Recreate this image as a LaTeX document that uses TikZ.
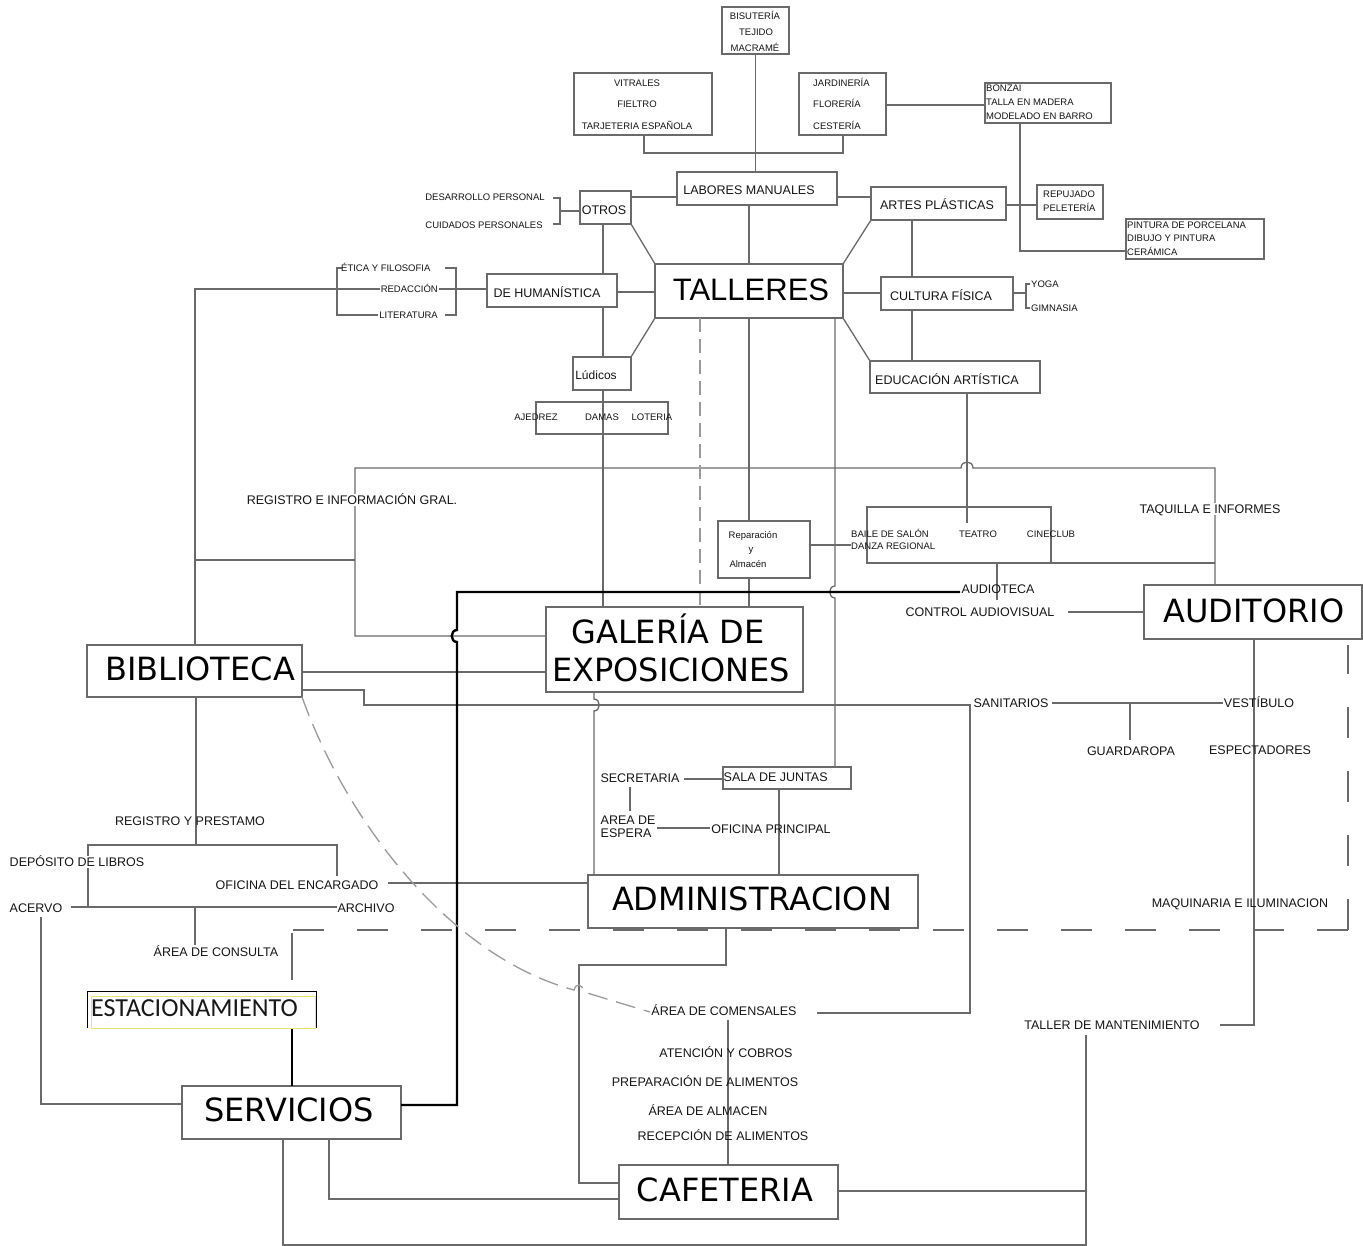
\documentclass[tikz,border=0pt]{standalone}
\usepackage{fontspec}
\setmainfont{Liberation Sans}
\newfontfamily\dvfont{DejaVu Sans}
\newfontfamily\carlfont{Carlito}
\newcommand\szS{\fontsize{9.5}{11}\selectfont}
\newcommand\szM{\fontsize{12.5}{15}\selectfont}
\newcommand\szB{\dvfont\fontsize{32}{36}\selectfont}
\newcommand\szT{\fontsize{31}{34}\selectfont}
\newcommand\szE{\carlfont\fontsize{26}{30}\selectfont}
\definecolor{lg}{HTML}{6A6A6A}
\definecolor{dg}{HTML}{9A9A9A}
\definecolor{txt}{HTML}{161616}
\definecolor{ylw}{HTML}{EDE36A}
\newcommand\zbox[6][]{\node[box,minimum width={#5-#3},minimum height={#6-#4},#1] (#2) at ({(#3+#5)/2},{(#4+#6)/2}) {};}
\begin{document}
\begin{tikzpicture}[x=1pt,y=-1pt,
  box/.style={draw=lg,line width=1.3pt,inner sep=0pt,outer sep=0pt},
  ln/.style={draw=lg,line width=1.3pt},
  tk/.style={draw=black,line width=2.4pt},
  dsh/.style={draw=lg,line width=1.3pt,dash pattern=on 31pt off 33pt},
  ldsh/.style={draw=dg,line width=1.3pt,dash pattern=on 14pt off 7pt},
  cdsh/.style={draw=dg,line width=1.3pt,dash pattern=on 20pt off 9pt},
  tL/.style={font=\szM,text=txt,text height=9pt,text depth=0pt,inner sep=1.5pt},
  tS/.style={font=\szS,text=txt,text height=6.8pt,text depth=0pt,inner sep=1pt},
  tB/.style={font=\szB,text=black,text height=23.3pt,text depth=0pt,inner sep=0pt},
  wb/.style={fill=white}]
\fill[white] (0,0) rectangle (1363,1246);
\useasboundingbox (0,0) rectangle (1363,1246);

% ---------- boxes ----------
\zbox{bis}{722}{7}{789}{54}
\zbox{vit}{574}{73}{712}{135}
\zbox{jar}{799}{73}{886}{135}
\zbox{bon}{985}{83}{1111}{123}
\zbox{rep}{1037}{185}{1103}{219}
\zbox{pin}{1126}{219}{1264}{259}
\zbox{lab}{677}{172}{837}{205}
\zbox{otr}{580}{191}{631}{224}
\zbox{art}{871}{187}{1006}{220}
\zbox{hum}{487}{274}{617}{307}
\zbox{tal}{655}{264}{843}{318}
\zbox{cul}{881}{277}{1013}{310}
\zbox{lud}{573}{357}{631}{390}
\zbox{aje}{536}{402}{668}{434}
\zbox{edu}{870}{361}{1040}{393}
\zbox{rpa}{718}{521}{810}{578}
\zbox{bai}{867}{507}{1051}{563}
\zbox{aud}{1144}{585}{1362}{639}
\zbox{gal}{546}{607}{803}{692}
\zbox{bib}{87}{645}{302}{697}
\zbox{sal}{723}{767}{851}{789}
\zbox{adm}{588}{875}{918}{928}
\zbox{ser}{182}{1086}{401}{1139}
\zbox{caf}{619}{1165}{838}{1219}
\zbox[draw=none]{est}{87}{991}{316}{1028}

% ---------- connectors ----------
\draw[ln] (bis.south) -- (bis.south |- lab.north);
\draw[ln] (vit.south -| 644,0) -- (644,153) -- (843,153) -- (jar.south -| 843,0);
\draw[ln] (jar.east |- 0,105) -- (bon.west |- 0,105);
\draw[ln] (bon.south -| 1020,0) -- (1020,251) -- (pin.west |- 0,251);
\draw[ln] (art.east |- 0,205) -- (rep.west |- 0,205);
\draw[ln] (otr.east |- 0,197) -- (lab.west |- 0,197);
\draw[ln] (lab.east |- 0,197) -- (art.west |- 0,197);
\draw[ln] (553,198) -- (560,198) -- (560,224) -- (553,224);
\draw[ln] (560,211) -- (otr.west |- 0,211);
\draw[ln] (otr.south -| 603,0) -- (hum.north -| 603,0);
\draw[ln] (hum.south -| 603,0) -- (lud.north -| 603,0);
\draw[ln] (lud.south -| 603,0) -- (gal.north -| 603,0);
\draw[ln] (lab.south -| 749,0) -- (tal.north -| 749,0);
\draw[ln] (otr.south east) -- (tal.north west);
\draw[ln] (tal.south west) -- (lud.north east);
\draw[ln] (tal.north east) -- (art.south west);
\draw[ln] (tal.south east) -- (edu.north west);
\draw[ln] (tal.west |- 0,292) -- (hum.east |- 0,292);
\draw[ln] (tal.east |- 0,293) -- (cul.west |- 0,293);
\draw[ln] (cul.east |- 0,293) -- (1026,293);
\draw[ln] (1030,284) -- (1026,284) -- (1026,308) -- (1030,308);
\draw[ln] (art.south -| 912,0) -- (cul.north -| 912,0);
\draw[ln] (cul.south -| 912,0) -- (edu.north -| 912,0);
\draw[ln] (445,268) -- (456,268) -- (456,315) -- (445,315);
\draw[ln] (342,268) -- (337,268) -- (337,315) -- (379,315);
\draw[ln] (bib.north -| 195,0) -- (195,289) -- (hum.west |- 0,289);
\draw[ln] (195,560) -- (355,560);
\draw[ln] (gal.west |- 0,636) -- (355,636) -- (355,468) -- (961,468)
  .. controls (961,460) and (973,460) .. (973,468) -- (1215,468) -- (aud.north -| 1215,0);
\draw[ln] (edu.south -| 967,0) -- (967,523);
\draw[ln] (tal.south -| 749,0) -- (rpa.north -| 749,0);
\draw[ln] (rpa.south -| 749,0) -- (gal.north -| 749,0);
\draw[ldsh] (tal.south -| 700,0) -- (gal.north -| 700,0);
\draw[ln] (tal.south -| 835,0) -- (835,586) .. controls (828,586) and (828,598) .. (835,598) -- (sal.north -| 835,0);
\draw[ln] (rpa.east |- 0,545) -- (851,545);
\draw[ln] (bai.south east) -- (1215,563);
\draw[ln] (bai.south -| 997,0) -- (997,600);
\draw[ln] (1068,612) -- (aud.west |- 0,612);
\draw[ln] (aud.south -| 1254,0) -- (1254,1025) -- (1220,1025);
\draw[ln] (1086,1035) -- (1086,1245) -- (283,1245) -- (ser.south -| 283,0);
\draw[ln] (caf.east |- 0,1191) -- (1086,1191);
\draw[ln] (bib.east |- 0,672) -- (gal.west |- 0,672);
\draw[ln] (bib.east |- 0,690) -- (364,690) -- (364,705) -- (970,705) -- (970,1013) -- (817,1013);
\draw[ln] (1052,703) -- (1223,703);
\draw[ln] (1130,703) -- (1130,740);
\draw[ln] (gal.south -| 594,0) -- (594,699) .. controls (601,699) and (601,711) .. (594,711) -- (adm.north -| 594,0);
\draw[ln] (684,779) -- (sal.west |- 0,779);
\draw[ln] (630,787) -- (630,811);
\draw[ln] (657,828) -- (710,828);
\draw[ln] (sal.south -| 779,0) -- (adm.north -| 779,0);
\draw[ln] (adm.west |- 0,883) -- (388,883);
\draw[ln] (adm.south -| 726,0) -- (726,965) -- (579,965) -- (579,1183) -- (caf.west |- 0,1183);
\draw[ln] (728,1020) -- (caf.north -| 728,0);
\draw[ln] (bib.south -| 196,0) -- (196,845);
\draw[ln] (88,907) -- (88,845) -- (337,845) -- (337,876);
\draw[ln] (71,907) -- (337,907);
\draw[ln] (195,907) -- (195,945);
\draw[ln] (41,917) -- (41,1104) -- (ser.west |- 0,1104);
\draw[ln] (ser.south -| 329,0) -- (329,1199) -- (caf.west |- 0,1199);
\draw[black,line width=1.6pt] (est.south -| 292,0) -- (ser.north -| 292,0);
\draw[tk] (ser.east |- 0,1105) -- (457,1105) -- (457,642) .. controls (450,642) and (450,630) .. (457,630) -- (457,592) -- (960,592);
\draw[dsh] (1348,930) -- (1348,645);
\draw[dsh] (1348,930) -- (292,930);
\draw[ln] (292,933) -- (292,980);
\draw[cdsh] (bib.south east) .. controls (350,830) and (455,958) .. (574,990)
  .. controls (576,983) and (582,983) .. (584,992) .. controls (610,1000) and (630,1006) .. (650,1012);

% ESTACIONAMIENTO frame
\draw[black,line width=1pt] (est.south west) -- (est.north west) -- (est.north east) -- (est.south east);
\draw[ylw,line width=1pt] (91,996) rectangle (315,1028);

% ---------- labels ----------
\node[tS] (tbis1) at (755,16) {BISUTERÍA};
\node[tS] (tbis2) at (756,32) {TEJIDO};
\node[tS] (tbis3) at (755,48) {MACRAMÉ};
\node[tS] (tvit1) at (637,83) {VITRALES};
\node[tS] (tvit2) at (637,104) {FIELTRO};
\node[tS] (tvit3) at (637,126) {TARJETERIA ESPAÑOLA};
\node[tS,anchor=west] (tjar1) at (812,83) {JARDINERÍA};
\node[tS,anchor=west] (tjar2) at (812,104) {FLORERÍA};
\node[tS,anchor=west] (tjar3) at (812,126) {CESTERÍA};
\node[tS,anchor=west] (tbon1) at (985,88) {BONZAI};
\node[tS,anchor=west] (tbon2) at (985,102) {TALLA EN MADERA};
\node[tS,anchor=west] (tbon3) at (985,116) {MODELADO EN BARRO};
\node[tS,anchor=west] (trep1) at (1042,194) {REPUJADO};
\node[tS,anchor=west] (trep2) at (1042,208) {PELETERÍA};
\node[tS,anchor=west] (tpin1) at (1126,225) {PINTURA DE PORCELANA};
\node[tS,anchor=west] (tpin2) at (1126,238) {DIBUJO Y PINTURA};
\node[tS,anchor=west] (tpin3) at (1126,252) {CERÁMICA};
\node[tS] (tdes) at (485,197) {DESARROLLO PERSONAL};
\node[tS] (tcui) at (484,225) {CUIDADOS PERSONALES};
\node[tS,anchor=west] (teti) at (340,268) {ÉTICA Y FILOSOFIA};
\node[tS,anchor=east,wb] (tred) at (439,289) {REDACCIÓN};
\node[tS,anchor=east,wb] (tlit) at (439,315) {LITERATURA};
\node[tS,anchor=west] (tyog) at (1030,284) {YOGA};
\node[tS,anchor=west] (tgim) at (1030,308) {GIMNASIA};
\node[tS] (taje) at (536,417) {AJEDREZ};
\node[tS] (tdam) at (602,417) {DAMAS};
\node[tS] (tlot) at (652,417) {LOTERIA};
\node[tS] (trp1) at (753,535) {Reparación};
\node[tS] (trp2) at (751,549) {y};
\node[tS] (trp3) at (748,564) {Almacén};
\node[tS,anchor=west] (tbai) at (850,534) {BAILE DE SALÓN};
\node[tS,anchor=west] (tdan) at (850,546) {DANZA REGIONAL};
\node[tS] (ttea) at (978,534) {TEATRO};
\node[tS] (tcin) at (1051,534) {CINECLUB};

\node[tL] (tlab) at (749,190) {LABORES MANUALES};
\node[tL] (totr) at (604,210) {OTROS};
\node[tL] (tart) at (937,205) {ARTES PLÁSTICAS};
\node[tL] (thum) at (547,293) {DE HUMANÍSTICA};
\node[tL] (tcul) at (941,296) {CULTURA FÍSICA};
\node[tL] (tedu) at (947,380) {EDUCACIÓN ARTÍSTICA};
\node[tL,font=\fontsize{12}{14}\selectfont] (tlud) at (596,375) {Lúdicos};
\node[tL,wb] (treg) at (352,500) {REGISTRO E INFORMACIÓN GRAL.};
\node[tL,wb] (ttaq) at (1210,509) {TAQUILLA E INFORMES};
\node[tL] (tado) at (998,589) {AUDIOTECA};
\node[tL] (tcon) at (980,612) {CONTROL AUDIOVISUAL};
\node[tL] (tsan) at (1011,703) {SANITARIOS};
\node[tL] (tves) at (1259,703) {VESTÍBULO};
\node[tL] (tgua) at (1131,751) {GUARDAROPA};
\node[tL] (tesp) at (1260,750) {ESPECTADORES};
\node[tL] (tmaq) at (1240,903) {MAQUINARIA E ILUMINACION};
\node[tL,anchor=west] (tsal) at (722,777) {SALA DE JUNTAS};
\node[tL] (tsec) at (640,778) {SECRETARIA};
\node[tL,anchor=west] (tare1) at (599,820) {AREA DE};
\node[tL,anchor=west] (tare2) at (599,833) {ESPERA};
\node[tL] (tofp) at (771,829) {OFICINA PRINCIPAL};
\node[tL] (trgp) at (190,821) {REGISTRO Y PRESTAMO};
\node[tL,wb] (tdep) at (77,862) {DEPÓSITO DE LIBROS};
\node[tL] (tofe) at (297,885) {OFICINA DEL ENCARGADO};
\node[tL] (tace) at (36,908) {ACERVO};
\node[tL] (tarc) at (366,908) {ARCHIVO};
\node[tL] (tcon2) at (216,952) {ÁREA DE CONSULTA};
\node[tL] (tcom) at (724,1011) {ÁREA DE COMENSALES};
\node[tL] (tate) at (726,1053) {ATENCIÓN Y COBROS};
\node[tL] (tpre) at (705,1082) {PREPARACIÓN DE ALIMENTOS};
\node[tL] (talm) at (708,1111) {ÁREA DE ALMACEN};
\node[tL] (trec) at (723,1136) {RECEPCIÓN DE ALIMENTOS};
\node[tL] (ttma) at (1112,1025) {TALLER DE MANTENIMIENTO};

\node[tB,font=\szT,text height=22.2pt] (ttal) at (751,289) {TALLERES};
\node[tB] (tgal1) at (668,632) {GALERÍA DE};
\node[tB] (tgal2) at (671,670) {EXPOSICIONES};
\node[tB] (tbib) at (200,669) {BIBLIOTECA};
\node[tB] (taud) at (1254,611) {AUDITORIO};
\node[tB] (tadm) at (752,899) {ADMINISTRACION};
\node[tB] (tser) at (289,1110) {SERVICIOS};
\node[tB] (tcaf) at (725,1190) {CAFETERIA};
\node[font=\szE,text=black!90,anchor=west,inner sep=0pt,text height=16.7pt,text depth=0pt] (test) at (91,1008) {ESTACIONAMIENTO};
\end{tikzpicture}
\end{document}
